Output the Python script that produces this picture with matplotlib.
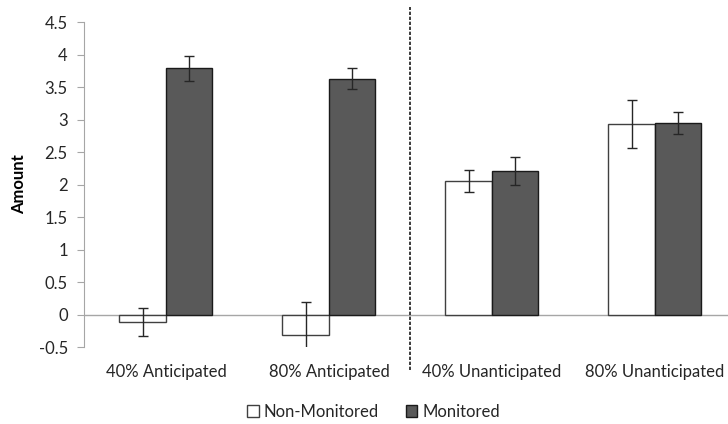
import numpy as np
import matplotlib.pyplot as plt
from matplotlib.patches import Patch

categories = ["40% Anticipated", "80% Anticipated", "40% Unanticipated", "80% Unanticipated"]
non_monitored = [-0.11, -0.31, 2.06, 2.93]
non_monitored_err = [0.215, 0.505, 0.17, 0.37]
monitored = [3.79, 3.63, 2.21, 2.94]
monitored_err = [0.19, 0.16, 0.21, 0.17]
yticks = [-0.5, 0, 0.5, 1, 1.5, 2, 2.5, 3, 3.5, 4, 4.5]


def main():
    plt.rcParams["font.family"] = ["Lato", "DejaVu Sans"]

    fig = plt.figure(figsize=(7.28, 4.24), dpi=100)
    ax = fig.add_axes([0.116, 0.1816, 0.8956, 0.7665])

    x = np.arange(len(categories))
    w = 0.285
    err_kw = dict(ecolor="#262626", elinewidth=1, capsize=3.5, capthick=1)

    ax.bar(x - w / 2, non_monitored, w, yerr=non_monitored_err,
           color="white", edgecolor="#404040", linewidth=1, error_kw=err_kw, zorder=2)
    ax.bar(x + w / 2, monitored, w, yerr=monitored_err,
           color="#595959", edgecolor="#1a1a1a", linewidth=1, error_kw=err_kw, zorder=2)

    ax.axhline(0, color="#a6a6a6", linewidth=1, zorder=1)
    # divider between anticipated and unanticipated
    ax.axvline(1.5, ymin=-0.071, ymax=1.046, color="#1a1a1a", linestyle=(0, (2, 1)),
               linewidth=1.2, clip_on=False)

    ax.set_xlim(-0.5, 3.5)
    ax.set_ylim(-0.5, 4.5)
    ax.set_yticks(yticks)
    ax.set_yticklabels([f"{t:g}" for t in yticks])
    ax.set_xticks(x)
    ax.set_xticklabels(categories)

    for s in ["top", "right", "bottom"]:
        ax.spines[s].set_visible(False)
    ax.spines["left"].set_color("#a6a6a6")
    ax.tick_params(axis="y", length=5, color="#a6a6a6", labelsize=12,
                   labelcolor="#262626", pad=7)
    ax.tick_params(axis="x", length=0, labelsize=12, labelcolor="#262626", pad=12)

    ax.set_ylabel("Amount", fontsize=12, fontweight="bold", labelpad=8)

    handles = [Patch(facecolor="white", edgecolor="#404040", label="Non-Monitored"),
               Patch(facecolor="#595959", edgecolor="#1a1a1a", label="Monitored")]
    fig.legend(handles=handles, loc="center", bbox_to_anchor=(0.513, 0.028), ncol=2,
               frameon=False, fontsize=12, handlelength=0.7, handleheight=0.7,
               handletextpad=0.3, columnspacing=1.6, labelcolor="#262626")

    fig.savefig("out.png", dpi=100)


if __name__ == "__main__":
    main()
